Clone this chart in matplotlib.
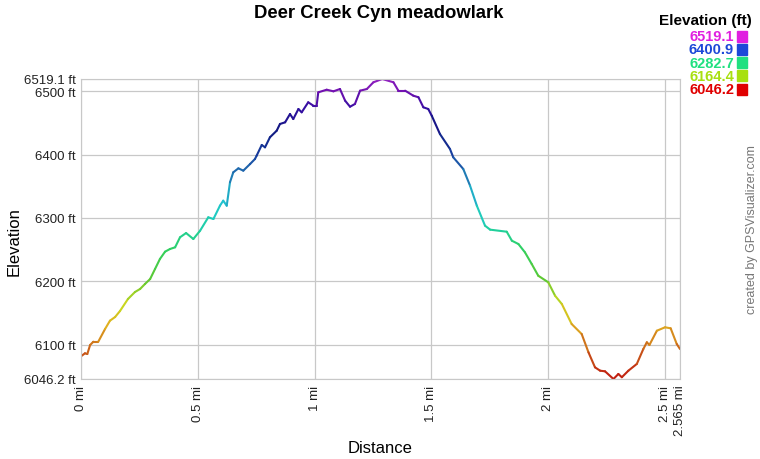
import numpy as np
import matplotlib
matplotlib.use('Agg')
import matplotlib.pyplot as plt
from matplotlib.collections import LineCollection
from matplotlib.colors import LinearSegmentedColormap

plt.rcParams['font.family'] = ['Liberation Sans', 'DejaVu Sans']

# track profile (miles, feet)
distance = [0.000, 0.017, 0.027, 0.039, 0.053, 0.074, 0.103, 0.124, 0.146, 0.167,
            0.201, 0.231, 0.253, 0.274, 0.296, 0.317, 0.338, 0.360, 0.381, 0.403,
            0.424, 0.450, 0.481, 0.510, 0.545, 0.567, 0.595, 0.609, 0.624, 0.638,
            0.652, 0.674, 0.695, 0.724, 0.745, 0.752, 0.774, 0.788, 0.809, 0.838,
            0.852, 0.874, 0.895, 0.909, 0.931, 0.945, 0.973, 0.995, 1.009, 1.016,
            1.052, 1.081, 1.109, 1.131, 1.152, 1.173, 1.195, 1.224, 1.252, 1.290,
            1.338, 1.359, 1.388, 1.423, 1.445, 1.466, 1.487, 1.502, 1.537, 1.580,
            1.594, 1.637, 1.666, 1.695, 1.730, 1.752, 1.823, 1.845, 1.873, 1.901,
            1.930, 1.958, 2.001, 2.030, 2.059, 2.101, 2.144, 2.173, 2.201, 2.223,
            2.244, 2.280, 2.301, 2.316, 2.344, 2.380, 2.408, 2.423, 2.434, 2.466,
            2.501, 2.525, 2.551, 2.565]
elevation = [6082.0, 6086.7, 6085.6, 6099.8, 6105.0, 6105.0, 6125.0, 6138.1, 6143.9, 6153.4,
             6172.3, 6183.3, 6188.1, 6196.0, 6203.8, 6219.6, 6235.4, 6246.9, 6251.1, 6253.8,
             6269.6, 6276.3, 6266.9, 6280.0, 6301.1, 6298.4, 6319.4, 6327.3, 6319.4, 6356.3,
             6372.0, 6378.3, 6374.6, 6385.1, 6393.0, 6398.2, 6415.1, 6411.4, 6427.2, 6437.6,
             6448.2, 6450.8, 6463.9, 6456.0, 6471.8, 6466.6, 6482.4, 6477.0, 6477.0, 6498.1,
             6502.2, 6499.7, 6503.3, 6484.9, 6475.4, 6479.7, 6500.7, 6503.3, 6513.9, 6519.1,
             6513.9, 6500.7, 6500.7, 6492.8, 6490.3, 6474.5, 6471.8, 6461.2, 6432.4, 6408.8,
             6395.7, 6377.2, 6350.9, 6319.4, 6287.9, 6281.6, 6278.4, 6264.2, 6259.0, 6245.9,
             6227.5, 6209.0, 6198.6, 6177.5, 6164.4, 6132.9, 6117.1, 6088.3, 6064.6, 6059.3,
             6058.3, 6046.2, 6054.1, 6049.0, 6059.3, 6069.9, 6093.5, 6104.1, 6099.8, 6122.3,
             6127.7, 6126.1, 6101.4, 6093.5]

y_ticks = [6046.2, 6100, 6200, 6300, 6400, 6500, 6519.1]
x_ticks = [0, 0.5, 1, 1.5, 2, 2.5, 2.565]
x_labels = ['0 mi', '0.5 mi', '1 mi', '1.5 mi', '2 mi', '2.5 mi', '2.565 mi']

legend_values = ['6519.1', '6400.9', '6282.7', '6164.4', '6046.2']
legend_colors = ['#e020e0', '#1c48d8', '#20e080', '#a8e010', '#e00000']

ymin, ymax = 6046.2, 6519.1
line_cmap = LinearSegmentedColormap.from_list('elev', [
    (0.00, '#c01c10'), (0.09, '#c85a18'), (0.18, '#e0b020'), (0.25, '#c8d820'),
    (0.33, '#60c830'), (0.43, '#30d060'), (0.50, '#20d0a0'), (0.58, '#20c8d0'),
    (0.69, '#2070b0'), (0.75, '#1840a0'), (0.83, '#101880'), (0.90, '#3010a0'),
    (0.96, '#7010b0'), (1.00, '#9020c0')])

fig = plt.figure(figsize=(7.6, 4.6), dpi=100)
ax = fig.add_axes([81 / 760, 1 - 380 / 460, 599 / 760, 300 / 460])

pts = np.column_stack([distance, elevation])
segs = np.stack([pts[:-1], pts[1:]], axis=1)
mid = (np.array(elevation[:-1]) + np.array(elevation[1:])) / 2
lc = LineCollection(segs, cmap=line_cmap, linewidths=1.5, capstyle='round', joinstyle='round')
lc.set_array(mid)
lc.set_clim(ymin, ymax)
ax.add_collection(lc)

ax.set_xlim(0, 2.565)
ax.set_ylim(ymin, ymax)
ax.set_yticks(y_ticks)
ax.set_yticklabels(['%g ft' % v for v in y_ticks], fontsize=9.5, color='#222222')
ax.set_xticks(x_ticks)
ax.set_xticklabels(x_labels, rotation=90, fontsize=9.5, color='#222222')
ax.tick_params(length=0, pad=4)
ax.grid(True, color='#c8c8c8', linewidth=0.9)
ax.set_axisbelow(True)
for s in ax.spines.values():
    s.set_color('#c8c8c8')

fig.text(14 / 760, 1 - 242 / 460, 'Elevation', rotation=90, fontsize=12,
         ha='center', va='center')
fig.text(380 / 760, 1 - 449 / 460, 'Distance', fontsize=12, ha='center', va='center')
fig.text(379 / 760, 1 - 14 / 460, 'Deer Creek Cyn meadowlark', fontsize=13.3,
         fontweight='bold', ha='center', va='center')
fig.text(752 / 760, 1 - 230 / 460, 'created by GPSVisualizer.com', rotation=90,
         fontsize=9, color='#777777', ha='center', va='center')

fig.text(752 / 760, 1 - 21 / 460, 'Elevation (ft)', fontsize=11, fontweight='bold',
         ha='right', va='center')
for i, (v, c) in enumerate(zip(legend_values, legend_colors)):
    yy = 1 - (37 + i * 13.3) / 460
    fig.text(734 / 760, yy, v, fontsize=10.5, fontweight='bold', color=c,
             ha='right', va='center')
    fig.patches.append(plt.Rectangle((737 / 760, yy - 5.5 / 460), 10 / 760, 11 / 460,
                                     transform=fig.transFigure, color=c))

fig.savefig('out.png', dpi=100)
